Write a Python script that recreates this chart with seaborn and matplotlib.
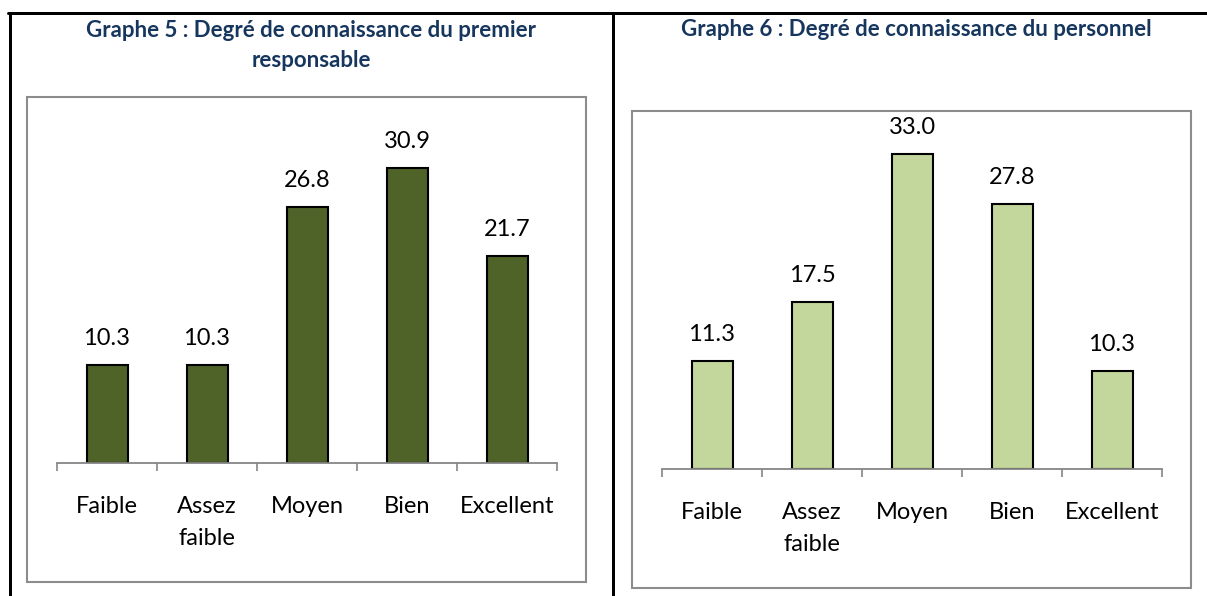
import matplotlib
matplotlib.use("Agg")
import matplotlib.pyplot as plt
from matplotlib.patches import Rectangle
from matplotlib.lines import Line2D
import seaborn as sns
import pandas as pd

categories = ["Faible", "Assez\nfaible", "Moyen", "Bien", "Excellent"]
values_g5 = [10.3, 10.3, 26.8, 30.9, 21.7]
values_g6 = [11.3, 17.5, 33.0, 27.8, 10.3]
title_g5 = "Graphe 5 : Degré de connaissance du premier\nresponsable"
title_g6 = "Graphe 6 : Degré de connaissance du personnel"

sns.set_style("white")
plt.rcParams['font.family'] = ['Lato', 'DejaVu Sans']

W, H = 1207, 596
fig = plt.figure(figsize=(W / 100, H / 100), dpi=100)

def fx(px):
    return px / W

def fy(py):
    return 1 - py / H

# table borders
lw_tab = 3 * 72 / 100
fig.add_artist(Line2D([fx(8), fx(1207)], [fy(13), fy(13)], color="black", lw=lw_tab))
fig.add_artist(Line2D([fx(10), fx(10)], [fy(13), fy(596)], color="black", lw=lw_tab))
fig.add_artist(Line2D([fx(613), fx(613)], [fy(13), fy(596)], color="black", lw=lw_tab))

# chart boxes
box_col = "#8c8c8c"
for (x0, y0, x1, y1) in [(27, 97, 586, 582), (632, 111, 1191, 588)]:
    fig.add_artist(Rectangle((fx(x0), fy(y1)), fx(x1) - fx(x0), fy(y0) - fy(y1),
                             transform=fig.transFigure, fill=False,
                             edgecolor=box_col, lw=1.5))

title_col = "#17365D"
fig.text(fx(311), fy(45.5), title_g5, ha="center", va="center", fontsize=16,
         fontweight="bold", color=title_col, linespacing=1.5)
fig.text(fx(916), fy(30), title_g6, ha="center", va="center", fontsize=16,
         fontweight="bold", color=title_col)

def draw(vals, color, x0, x1, y0, ytop):
    ax = fig.add_axes([fx(x0), fy(y0), fx(x1) - fx(x0), fy(ytop) - fy(y0)])
    df = pd.DataFrame({"cat": categories, "val": vals})
    sns.barplot(data=df, x="cat", y="val", ax=ax, color=color,
                edgecolor="black", linewidth=1.5, width=0.41, saturation=1)
    ax.set_xlim(-0.5, 4.5)
    ax.set_ylim(0, 35)
    ax.set_xlabel("")
    ax.set_ylabel("")
    ax.set_yticks([])
    for s in ["top", "left", "right"]:
        ax.spines[s].set_visible(False)
    ax.spines["bottom"].set_color("#868686")
    ax.spines["bottom"].set_linewidth(1.3)
    ax.set_xticks([i - 0.5 for i in range(6)])
    ax.set_xticklabels([])
    ax.tick_params(axis="x", which="major", length=6, width=1.2, color="#868686",
                   direction="out", bottom=True)
    ax.set_xticks(range(5), minor=True)
    ax.set_xticklabels(categories, minor=True, fontsize=17, linespacing=1.6,
                       color="black", va="top")
    ax.tick_params(axis="x", which="minor", length=0, pad=24)
    for i, v in enumerate(vals):
        ax.annotate(f"{v:.1f}", (i, v), xytext=(0, 19), textcoords="offset points",
                    ha="center", va="center", fontsize=17, color="black")
    ax.patch.set_alpha(0)
    return ax

draw(values_g5, "#4F6228", 57, 557, 463, 129)
draw(values_g6, "#C3D69B", 662, 1162, 469, 135)

fig.savefig("out.png", dpi=100, facecolor="white")
